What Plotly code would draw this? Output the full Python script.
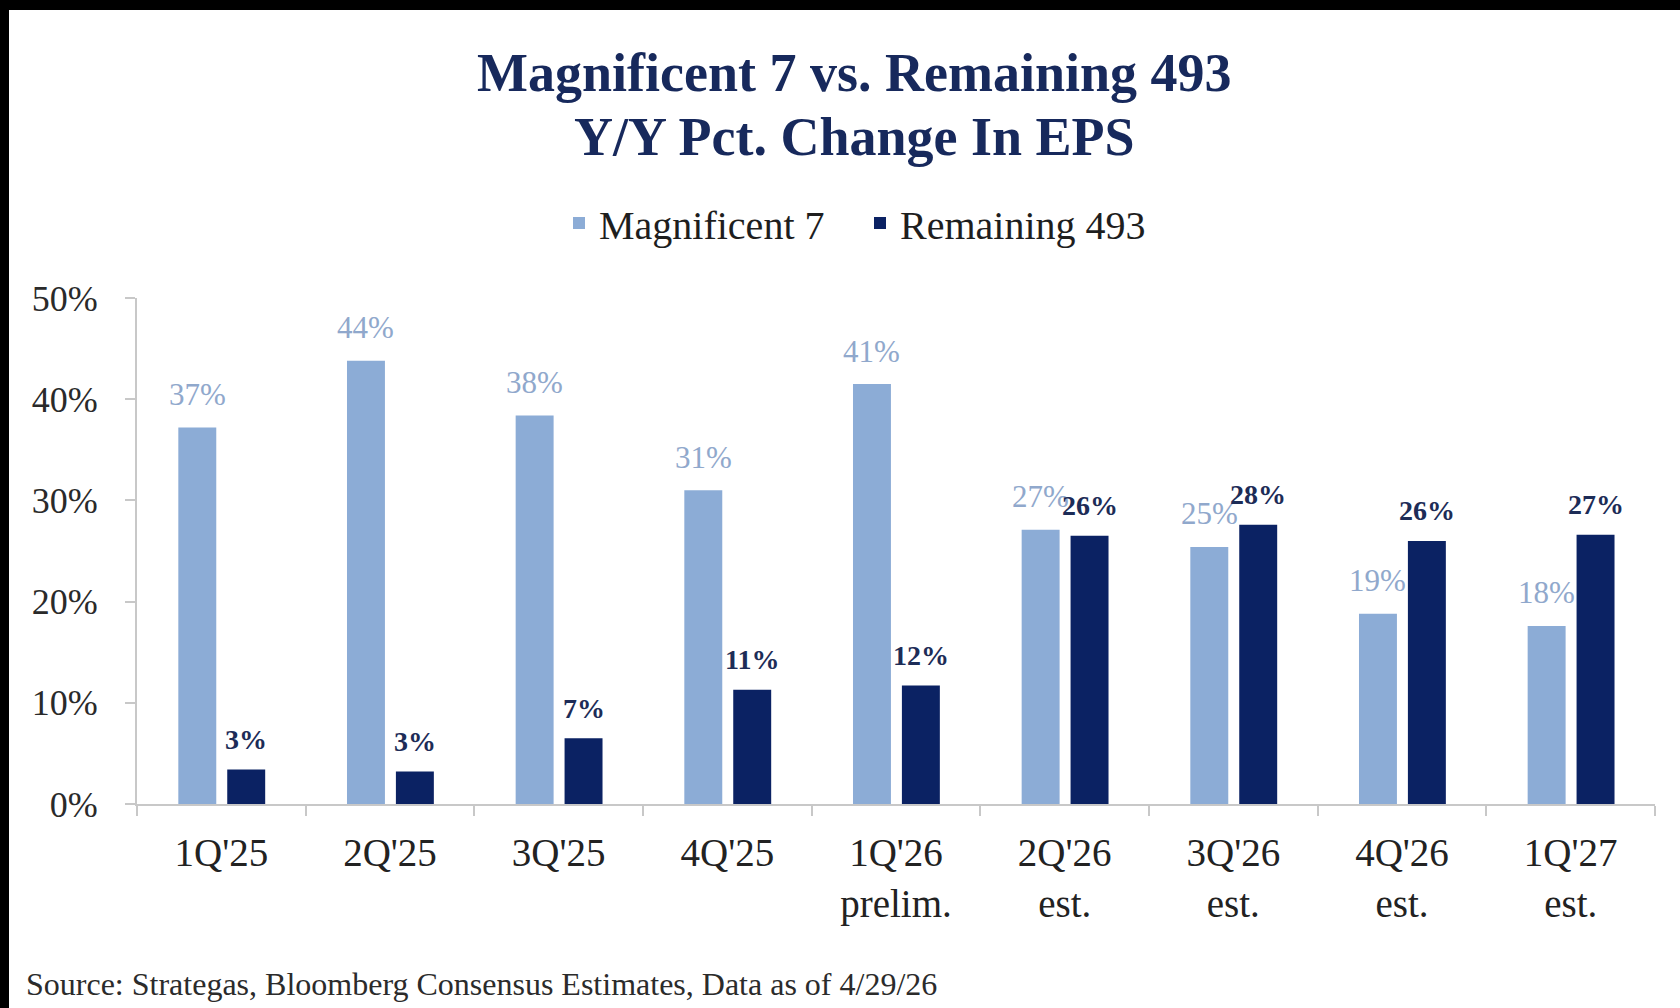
import plotly.graph_objects as go

categories = ["1Q'25", "2Q'25", "3Q'25", "4Q'25", "1Q'26<br>prelim.", "2Q'26<br>est.",
              "3Q'26<br>est.", "4Q'26<br>est.", "1Q'27<br>est."]
mag7 = [37.2, 43.8, 38.4, 31.0, 41.5, 27.1, 25.4, 18.8, 17.6]
rem493 = [3.4, 3.2, 6.5, 11.3, 11.7, 26.5, 27.6, 26.0, 26.6]
mag7_labels = ["37%", "44%", "38%", "31%", "41%", "27%", "25%", "19%", "18%"]
rem493_labels = ["3%", "3%", "7%", "11%", "12%", "26%", "28%", "26%", "27%"]
y_ticks = [0, 10, 20, 30, 40, 50]
y_ticktext = ["0%", "10%", "20%", "30%", "40%", "50%"]

FONT = "Liberation Serif"
C_M7 = "#8cacd6"
C_R = "#0b2263"
C_M7_LBL = "#90a8cc"
C_R_LBL = "#1d2c57"
C_TITLE = "#17295c"

idx = list(range(len(categories)))
W = 0.225
OFF_M7 = -0.255
OFF_R = 0.035

fig = go.Figure()
fig.add_trace(go.Bar(x=idx, y=mag7, name="Magnificent 7", marker_color=C_M7,
                     width=W, offset=OFF_M7, marker_line_width=0))
fig.add_trace(go.Bar(x=idx, y=rem493, name="Remaining 493", marker_color=C_R,
                     width=W, offset=OFF_R, marker_line_width=0))

annotations = []
for i, v, t in zip(idx, mag7, mag7_labels):
    annotations.append(dict(x=i + OFF_M7 + W / 2, y=v, xref="x", yref="y", text=t,
                            showarrow=False, yshift=33, yanchor="middle",
                            font=dict(family=FONT, size=31, color=C_M7_LBL)))
for i, v, t in zip(idx, rem493, rem493_labels):
    annotations.append(dict(x=i + OFF_R + W / 2, y=v, xref="x", yref="y", text="<b>" + t + "</b>",
                            showarrow=False, yshift=30, yanchor="middle",
                            font=dict(family=FONT, size=28, color=C_R_LBL)))

# plot area geometry in px
L, R, T, B = 137, 1655, 298, 804
PW, PH = R - L, B - T
def px(xp):
    return (xp - L) / PW
def py(yp):
    return (B - yp) / PH

annotations.append(dict(x=px(854), y=py(73), xref="paper", yref="paper",
                        text="<b>Magnificent 7 vs. Remaining 493</b>", showarrow=False,
                        xanchor="center", yanchor="middle",
                        font=dict(family=FONT, size=54, color=C_TITLE)))
annotations.append(dict(x=px(854), y=py(137), xref="paper", yref="paper",
                        text="<b>Y/Y Pct. Change In EPS</b>", showarrow=False,
                        xanchor="center", yanchor="middle",
                        font=dict(family=FONT, size=54, color=C_TITLE)))
annotations.append(dict(x=px(24), y=py(984), xref="paper", yref="paper",
                        text="Source: Strategas, Bloomberg Consensus Estimates, Data as of 4/29/26",
                        showarrow=False, xanchor="left", yanchor="middle",
                        font=dict(family=FONT, size=32, color="#2b2b2b")))

shapes = [
    dict(type="rect", xref="paper", yref="paper", x0=px(-5), x1=px(1690), y0=py(10), y1=py(-5),
         fillcolor="black", line_width=0, layer="above"),
    dict(type="rect", xref="paper", yref="paper", x0=px(-5), x1=px(9), y0=py(1015), y1=py(-5),
         fillcolor="black", line_width=0, layer="above"),
]

fig.update_layout(
    width=1680, height=1008,
    margin=dict(l=L, r=1680 - R, t=T, b=1008 - B, pad=0, autoexpand=False),
    paper_bgcolor="white", plot_bgcolor="white",
    barmode="overlay",
    showlegend=True,
    legend=dict(orientation="h", x=px(559), y=py(223), xanchor="left", yanchor="middle",
                font=dict(family=FONT, size=40, color="#1e1e1e"),
                itemsizing="constant", tracegroupgap=0, itemwidth=30,
                entrywidth=256, entrywidthmode="pixels",
                bgcolor="rgba(0,0,0,0)"),
    annotations=annotations,
    shapes=shapes,
    xaxis=dict(range=[-0.5, len(categories) - 0.5], tickmode="array", tickvals=idx,
               ticktext=categories, ticks="", showgrid=False, zeroline=False,
               showline=True, linecolor="#c8c8c8", linewidth=2,
               tickfont=dict(family=FONT, size=39, color="#222222"),
               ticklabelstandoff=13,
               minor=dict(tickmode="array", tickvals=[i - 0.5 for i in idx] + [len(idx) - 0.5],
                          ticks="outside", ticklen=10, tickcolor="#c8c8c8", tickwidth=2,
                          showgrid=False)),
    yaxis=dict(range=[0, 50], tickmode="array", tickvals=y_ticks, ticktext=y_ticktext,
               ticks="outside", ticklen=10, tickcolor="#c8c8c8", tickwidth=2,
               showgrid=False, zeroline=False, showline=True, linecolor="#c8c8c8", linewidth=2,
               tickfont=dict(family=FONT, size=36, color="#2a2a2a"),
               ticklabelstandoff=20),
)

fig.write_html("out.html", config={"displayModeBar": False},
               post_script="document.body.style.margin='0';document.body.style.padding='0';")
